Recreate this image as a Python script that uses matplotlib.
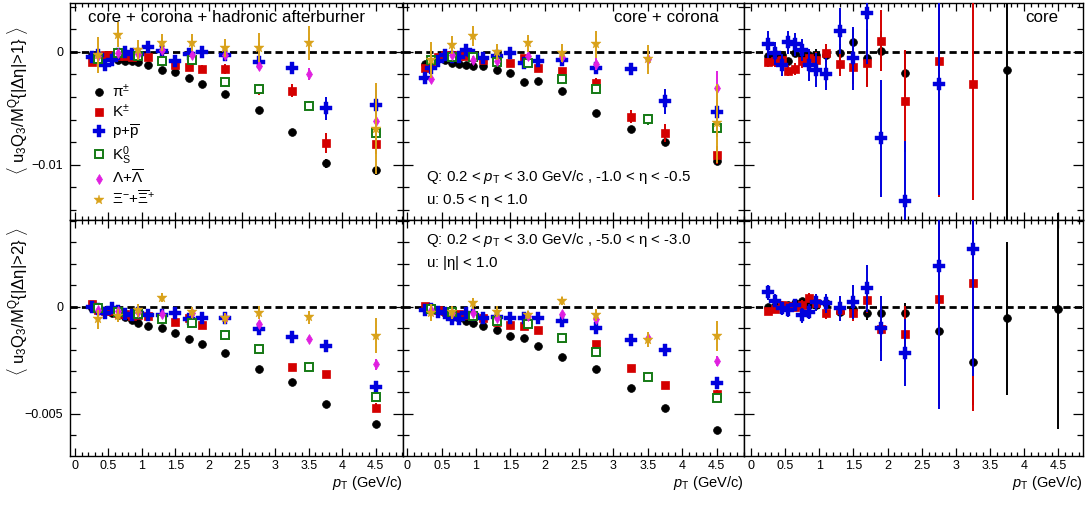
import matplotlib
matplotlib.use("Agg")
import matplotlib.pyplot as plt
import numpy as np
from matplotlib.lines import Line2D
from matplotlib.ticker import MultipleLocator, FuncFormatter

plt.rcParams["font.family"] = ["Liberation Sans", "DejaVu Sans"]
plt.rcParams["mathtext.fontset"] = "custom"
plt.rcParams["mathtext.rm"] = "Liberation Sans"
plt.rcParams["mathtext.it"] = "Liberation Sans:italic"
plt.rcParams["mathtext.bf"] = "Liberation Sans:bold"

nan = np.nan

# pT bin centres (GeV/c)
pt_pid = [0.25, 0.35, 0.45, 0.55, 0.65, 0.75, 0.85, 0.95, 1.1, 1.3,
          1.5, 1.7, 1.9, 2.25, 2.75, 3.25, 3.75, 4.5]
pt_v0 = [0.35, 0.65, 0.95, 1.3, 1.75, 2.25, 2.75, 3.5, 4.5]

# <u3 Q3 / M^Q>, all values in units of 1e-3
# suffix _1: |d eta| > 1 (top row), _2: |d eta| > 2 (bottom row)

# --- core + corona + hadronic afterburner ---
pi_hadr_1 = [-0.3, -0.4, -0.5, -0.6, -0.7, -0.8, -0.86, -0.94, -1.15, -1.65,
             -1.8, -2.3, -2.89, -3.78, -5.16, -7.11, -9.88, -10.47]
pi_hadr_1_err = [0.1, 0.1, 0.1, 0.1, 0.1, 0.1, 0.1, 0.1, 0.1, 0.1,
                 0.1, 0.15, 0.15, 0.2, 0.25, 0.3, 0.4, 0.4]
k_hadr_1 = [-0.95, -0.5, -0.3, -0.3, -0.35, -0.4, -0.45, -0.4, -0.44, -0.83,
            -1.2, -1.33, -1.53, -1.53, -3.33, -3.45, -8.05, -8.17]
k_hadr_1_err = [0.2, 0.2, 0.2, 0.2, 0.2, 0.2, 0.2, 0.2, 0.15, 0.2,
                0.25, 0.3, 0.35, 0.4, 0.5, 0.6, 0.9, 0.9]
p_hadr_1 = [-0.5, -0.3, -1.18, -0.74, -0.2, 0.0, -0.2, -0.2, 0.4, 0.1,
            -0.78, -0.2, -0.05, -0.3, -0.88, -1.42, -5.0, -4.72]
p_hadr_1_err = [0.3, 0.3, 0.3, 0.3, 0.3, 0.3, 0.3, 0.3, 0.3, 0.3,
                0.3, 0.3, 0.3, 0.35, 0.5, 0.5, 1.0, 1.3]
k0s_hadr_1 = [-0.68, -0.12, -0.4, -0.78, -0.72, -2.65, -3.3, -4.8, -7.17]
k0s_hadr_1_err = [0.2, 0.2, 0.2, 0.2, 0.25, 0.3, 0.35, 0.4, 0.6]
lam_hadr_1 = [-0.4, -0.12, -0.2, 0.15, -0.3, -0.25, -1.24, -1.98, -6.1]
lam_hadr_1_err = [0.3, 0.3, 0.3, 0.3, 0.3, 0.3, 0.4, 0.5, 0.6]
xi_hadr_1 = [-0.3, 1.5, 0.15, 0.8, 0.8, 0.33, 0.35, 0.74, -6.8]
xi_hadr_1_err = [1.6, 1.1, 0.9, 0.75, 0.75, 0.8, 1.3, 1.5, 4.0]

pi_hadr_2 = [-0.05, -0.12, -0.2, -0.3, -0.4, -0.5, -0.63, -0.77, -0.88, -1.0,
             -1.25, -1.52, -1.72, -2.14, -2.89, -3.49, -4.53, -5.47]
pi_hadr_2_err = [0.03, 0.03, 0.03, 0.03, 0.03, 0.03, 0.03, 0.03, 0.03, 0.03,
                 0.03, 0.03, 0.04, 0.04, 0.05, 0.07, 0.08, 0.1]
k_hadr_2 = [0.12, -0.15, -0.2, -0.2, -0.3, -0.35, -0.45, -0.4, -0.42, -0.5,
            -0.71, -0.55, -0.85, -1.32, -1.99, -2.81, -3.14, -4.7]
k_hadr_2_err = [0.05, 0.05, 0.05, 0.05, 0.05, 0.05, 0.05, 0.05, 0.05, 0.05,
                0.05, 0.05, 0.05, 0.06, 0.08, 0.1, 0.15, 0.2]
p_hadr_2 = [-0.03, -0.1, -0.31, -0.08, -0.2, -0.36, -0.39, -0.3, -0.39, -0.4,
            -0.31, -0.57, -0.54, -0.54, -1.04, -1.4, -1.82, -3.73]
p_hadr_2_err = [0.05, 0.05, 0.05, 0.05, 0.05, 0.05, 0.05, 0.05, 0.05, 0.05,
                0.05, 0.05, 0.05, 0.06, 0.08, 0.1, 0.12, 0.15]
k0s_hadr_2 = [-0.05, -0.23, -0.36, -0.57, -0.78, -1.32, -1.99, -2.8, -4.22]
k0s_hadr_2_err = [0.05, 0.05, 0.05, 0.05, 0.06, 0.07, 0.08, 0.1, 0.12]
lam_hadr_2 = [-0.16, -0.2, -0.25, -0.36, -0.31, -0.54, -0.81, -1.51, -2.69]
lam_hadr_2_err = [0.1, 0.1, 0.1, 0.1, 0.1, 0.1, 0.12, 0.15, 0.25]
xi_hadr_2 = [-0.59, -0.43, -0.16, 0.42, -0.26, -0.54, -0.28, -0.5, -1.35]
xi_hadr_2_err = [0.45, 0.3, 0.3, 0.2, 0.25, 0.25, 0.3, 0.3, 0.8]

# --- core + corona ---
pi_cc_1 = [-1.1, -0.8, -0.55, -0.7, -1.03, -1.12, -1.18, -1.3, -1.24, -1.62,
           -1.92, -2.65, -2.6, -3.48, -5.46, -6.87, -8.02, -9.65]
pi_cc_1_err = [0.1, 0.1, 0.1, 0.1, 0.1, 0.1, 0.1, 0.1, 0.1, 0.1,
               0.1, 0.1, 0.1, 0.15, 0.2, 0.3, 0.35, 0.4]
k_cc_1 = [-1.47, -0.9, -0.5, -0.3, -0.3, -0.35, -0.4, -0.5, -0.74, -0.74,
          -1.03, -0.59, -1.47, -1.71, -2.74, -5.75, -7.17, -9.14]
k_cc_1_err = [0.2, 0.2, 0.2, 0.2, 0.2, 0.2, 0.2, 0.2, 0.2, 0.2,
              0.2, 0.2, 0.2, 0.3, 0.4, 0.6, 0.8, 0.8]
p_cc_1 = [-2.3, -1.47, -0.83, -0.3, -0.44, -0.44, 0.15, -0.3, -0.55, -0.35,
          -0.09, -0.97, -0.83, -0.74, -1.47, -1.53, -4.37, -5.31]
p_cc_1_err = [0.3, 0.3, 0.25, 0.2, 0.2, 0.2, 0.2, 0.2, 0.2, 0.2,
              0.2, 0.2, 0.25, 0.3, 0.4, 0.5, 1.1, 1.0]
k0s_cc_1 = [-0.74, -0.44, -0.5, -0.88, -1.03, -2.42, -3.33, -5.99, -6.78]
k0s_cc_1_err = [0.2, 0.2, 0.2, 0.2, 0.2, 0.3, 0.4, 0.5, 0.8]
lam_cc_1 = [-2.42, -0.3, -0.74, -0.8, -0.38, -0.5, -1.09, -0.68, -3.24]
lam_cc_1_err = [0.35, 0.3, 0.35, 0.3, 0.3, 0.3, 0.5, 0.8, 1.5]
xi_cc_1 = [-0.74, 0.59, 1.39, 0.0, 0.74, -0.15, 0.65, -0.68, -6.34]
xi_cc_1_err = [1.6, 0.8, 0.9, 0.7, 0.75, 0.8, 1.2, 1.3, 3.5]

pi_cc_2 = [-0.05, -0.12, -0.2, -0.3, -0.4, -0.55, -0.67, -0.78, -0.89, -1.09,
           -1.37, -1.48, -1.83, -2.36, -2.92, -3.8, -4.74, -5.75]
pi_cc_2_err = [0.03, 0.03, 0.03, 0.03, 0.03, 0.03, 0.03, 0.03, 0.03, 0.03,
               0.03, 0.03, 0.04, 0.04, 0.05, 0.07, 0.08, 0.1]
k_cc_2 = [0.05, -0.05, -0.15, -0.2, -0.28, -0.35, -0.4, -0.45, -0.55, -0.7,
          -0.85, -0.9, -1.09, -1.44, -1.74, -2.84, -3.65, -4.08]
k_cc_2_err = [0.05, 0.05, 0.05, 0.05, 0.05, 0.05, 0.05, 0.05, 0.05, 0.05,
              0.05, 0.05, 0.05, 0.06, 0.08, 0.1, 0.15, 0.2]
p_cc_2 = [-0.16, -0.1, -0.26, -0.3, -0.57, -0.57, -0.31, -0.4, -0.51, -0.5,
          -0.54, -0.54, -0.54, -0.67, -0.98, -1.55, -2.02, -3.57]
p_cc_2_err = [0.05, 0.05, 0.05, 0.05, 0.05, 0.05, 0.05, 0.05, 0.05, 0.05,
              0.05, 0.05, 0.05, 0.06, 0.08, 0.1, 0.12, 0.15]
k0s_cc_2 = [-0.11, -0.26, -0.43, -0.67, -0.81, -1.44, -2.13, -3.26, -4.24]
k0s_cc_2_err = [0.05, 0.05, 0.05, 0.05, 0.06, 0.07, 0.08, 0.1, 0.12]
lam_cc_2 = [-0.16, -0.31, -0.3, -0.51, -0.43, -0.34, -0.59, -1.48, -2.53]
lam_cc_2_err = [0.1, 0.1, 0.1, 0.1, 0.1, 0.1, 0.12, 0.15, 0.25]
xi_cc_2 = [-0.28, -0.26, 0.16, -0.23, -0.39, 0.26, -0.39, -1.55, -1.35]
xi_cc_2_err = [0.4, 0.3, 0.25, 0.25, 0.2, 0.2, 0.3, 0.35, 0.7]

# --- core only (no strange hadrons) ---
pi_core_1 = [-0.38, -0.2, -0.3, -0.83, -0.09, -0.4, -0.3, -0.3, -0.3, -0.09,
             0.83, -0.53, 0.06, -1.92, nan, nan, -1.62, -19.0]
pi_core_1_err = [0.3, 0.3, 0.3, 0.3, 0.3, 0.4, 0.4, 0.5, 0.6, 0.8,
                 1.2, 2.5, 1.8, 2.0, nan, nan, 13.5, 4.7]
k_core_1 = [-0.88, -0.83, -0.7, -1.68, -1.53, -0.83, -0.59, -0.74, -0.09, -1.12,
            -1.33, -1.03, 0.97, -4.34, -0.83, -2.86, nan, nan]
k_core_1_err = [0.5, 0.5, 0.5, 0.5, 0.5, 0.6, 0.6, 0.7, 0.8, 1.0,
                1.5, 2.1, 2.7, 4.5, 12.0, 10.3, nan, nan]
p_core_1 = [0.65, -0.15, -1.18, 0.83, 0.65, 0.15, -1.18, -1.62, -1.98, 1.83,
            -0.59, 3.39, -7.67, -13.2, -2.86, nan, nan, nan]
p_core_1_err = [1.2, 1.0, 1.0, 1.0, 1.0, 1.0, 1.4, 1.5, 1.4, 2.0,
                2.8, 4.5, 5.2, 5.3, 9.8, nan, nan, nan]

pi_core_2 = [0.0, 0.05, 0.05, 0.1, 0.15, 0.26, 0.1, 0.1, 0.16, -0.23,
             -0.1, -0.31, -0.31, -0.28, -1.13, -2.58, -0.54, -0.12]
pi_core_2_err = [0.1, 0.1, 0.1, 0.1, 0.1, 0.15, 0.15, 0.15, 0.2, 0.25,
                 0.3, 0.3, 0.3, 0.45, 1.0, 2.0, 3.57, 5.6]
k_core_2 = [-0.2, -0.11, 0.1, 0.05, 0.0, 0.1, 0.42, 0.16, -0.28, -0.16,
            -0.28, 0.31, -1.06, -1.27, 0.36, 1.12, nan, nan]
k_core_2_err = [0.1, 0.1, 0.15, 0.15, 0.15, 0.2, 0.2, 0.2, 0.3, 0.3,
                0.4, 0.6, 1.0, 1.3, 5.0, 6.0, nan, nan]
p_core_2 = [0.67, 0.28, -0.08, -0.16, 0.08, -0.39, -0.23, 0.2, 0.16, -0.08,
            0.23, 0.85, -1.01, -2.14, 1.91, 2.67, nan, nan]
p_core_2_err = [0.35, 0.3, 0.3, 0.3, 0.3, 0.35, 0.35, 0.4, 0.45, 0.6,
                0.8, 1.1, 1.5, 1.55, 6.7, 5.9, nan, nan]

species_labels = [r"$\mathrm{\pi}^{\pm}$", r"K$^{\pm}$", r"p+$\overline{\mathrm{p}}$",
                  r"K$^{0}_{\mathrm{S}}$", r"$\Lambda$+$\overline{\Lambda}$",
                  r"$\Xi^{-}$+$\overline{\Xi}^{+}$"]

styles = [
    dict(marker="o", color="black", mfc="black", ms=5.6, mew=0.5),
    dict(marker="s", color="#d40000", mfc="#d40000", ms=6.2, mew=0.5),
    dict(marker="P", color="#0000dd", mfc="#0000dd", ms=8.0, mew=0.3),
    dict(marker="s", color="#157a15", mfc="white", ms=5.8, mew=1.4),
    dict(marker="d", color="#e020e0", mfc="#e020e0", ms=5.0, mew=0.5),
    dict(marker="*", color="#d9a21b", mfc="#d9a21b", ms=7.5, mew=0.3),
]

# (values, errors) per species, for each [row][column]
panels = [
    [
        [(pi_hadr_1, pi_hadr_1_err), (k_hadr_1, k_hadr_1_err), (p_hadr_1, p_hadr_1_err),
         (k0s_hadr_1, k0s_hadr_1_err), (lam_hadr_1, lam_hadr_1_err), (xi_hadr_1, xi_hadr_1_err)],
        [(pi_cc_1, pi_cc_1_err), (k_cc_1, k_cc_1_err), (p_cc_1, p_cc_1_err),
         (k0s_cc_1, k0s_cc_1_err), (lam_cc_1, lam_cc_1_err), (xi_cc_1, xi_cc_1_err)],
        [(pi_core_1, pi_core_1_err), (k_core_1, k_core_1_err), (p_core_1, p_core_1_err)],
    ],
    [
        [(pi_hadr_2, pi_hadr_2_err), (k_hadr_2, k_hadr_2_err), (p_hadr_2, p_hadr_2_err),
         (k0s_hadr_2, k0s_hadr_2_err), (lam_hadr_2, lam_hadr_2_err), (xi_hadr_2, xi_hadr_2_err)],
        [(pi_cc_2, pi_cc_2_err), (k_cc_2, k_cc_2_err), (p_cc_2, p_cc_2_err),
         (k0s_cc_2, k0s_cc_2_err), (lam_cc_2, lam_cc_2_err), (xi_cc_2, xi_cc_2_err)],
        [(pi_core_2, pi_core_2_err), (k_core_2, k_core_2_err), (p_core_2, p_core_2_err)],
    ],
]

W, H = 1085, 505
col_px = [(70, 403), (403, 744), (744, 1083)]
row_px = [(3, 220), (220, 456)]
xlims = [(-0.075, 4.91), (-0.063, 4.90), (-0.10, 4.86)]
ylims = [(-0.01489, 0.00431), (-0.00696, 0.00404)]
ymajor = [0.01, 0.005]
yminor = [0.002, 0.001]


def tick_fmt(v, pos):
    if abs(v) < 1e-12:
        return "0"
    return f"{round(v, 6):g}".replace("-", "\u2212")


fig = plt.figure(figsize=(W / 100, H / 100), dpi=100)
axes = [[None] * 3 for _ in range(2)]

for r, (y0, y1) in enumerate(row_px):
    for c, (x0, x1) in enumerate(col_px):
        ax = fig.add_axes([x0 / W, 1 - y1 / H, (x1 - x0) / W, (y1 - y0) / H])
        axes[r][c] = ax
        ax.set_xlim(*xlims[c])
        ax.set_ylim(*ylims[r])
        ax.axhline(0, color="black", lw=2.0, ls=(0, (2.6, 1.5)), zorder=1)

        for i, (vals, errs) in enumerate(panels[r][c]):
            st = styles[i]
            pt = pt_pid if i < 3 else pt_v0
            ax.errorbar(pt, np.array(vals) * 1e-3, yerr=np.array(errs) * 1e-3,
                        fmt=st["marker"], color=st["color"], mfc=st["mfc"],
                        mec=st["color"], ms=st["ms"], mew=st["mew"],
                        elinewidth=1.4, capsize=0, zorder=2 + i)

        ax.xaxis.set_major_locator(MultipleLocator(0.5))
        ax.xaxis.set_minor_locator(MultipleLocator(0.1))
        ax.yaxis.set_major_locator(MultipleLocator(ymajor[r]))
        ax.yaxis.set_minor_locator(MultipleLocator(yminor[r]))
        ax.xaxis.set_major_formatter(FuncFormatter(tick_fmt))
        ax.yaxis.set_major_formatter(FuncFormatter(tick_fmt))
        ax.tick_params(which="both", direction="in", top=True, right=True,
                       labelsize=9, width=0.9)
        ax.tick_params(axis="x", which="major", length=6, pad=3)
        ax.tick_params(axis="x", which="minor", length=3)
        ax.tick_params(axis="y", which="major", length=7, pad=5)
        ax.tick_params(axis="y", which="minor", length=4)
        ax.tick_params(labelleft=(c == 0), labelbottom=(r == 1))
        for sp in ax.spines.values():
            sp.set_linewidth(1.0)
        if r == 1:
            ax.set_xlabel(r"$p_{\mathrm{T}}$ (GeV/c)", loc="right", fontsize=10.5, labelpad=1)

# panel titles
axes[0][0].text(0.054, 0.935, "core + corona + hadronic afterburner",
                transform=axes[0][0].transAxes, fontsize=12.2, va="center")
axes[0][1].text(0.619, 0.935, "core + corona", transform=axes[0][1].transAxes,
                fontsize=12.2, va="center")
axes[0][2].text(0.829, 0.935, "core", transform=axes[0][2].transAxes,
                fontsize=12.2, va="center")

# acceptance of the Q-vector and u-particles
axes[0][1].text(0.067, 0.198,
                r"Q: 0.2 < $p_{\mathrm{T}}$ < 3.0 GeV/c , -1.0 < $\mathrm{\eta}$ < -0.5",
                transform=axes[0][1].transAxes, fontsize=10.8, va="center")
axes[0][1].text(0.067, 0.092, r"u: 0.5 < $\mathrm{\eta}$ < 1.0",
                transform=axes[0][1].transAxes, fontsize=10.8, va="center")
axes[1][1].text(0.067, 0.915,
                r"Q: 0.2 < $p_{\mathrm{T}}$ < 3.0 GeV/c , -5.0 < $\mathrm{\eta}$ < -3.0",
                transform=axes[1][1].transAxes, fontsize=10.8, va="center")
axes[1][1].text(0.067, 0.818, r"u: |$\mathrm{\eta}$| < 1.0",
                transform=axes[1][1].transAxes, fontsize=10.8, va="center")

# y-axis titles
fig.text(18 / W, 1 - 101 / H,
         r"$\langle$ u$_3$Q$_3$/M$^{\mathrm{Q}}${|$\Delta\mathrm{\eta}$|>1} $\rangle$",
         rotation=90, ha="center", va="center", fontsize=12)
fig.text(18 / W, 1 - 302 / H,
         r"$\langle$ u$_3$Q$_3$/M$^{\mathrm{Q}}${|$\Delta\mathrm{\eta}$|>2} $\rangle$",
         rotation=90, ha="center", va="center", fontsize=12)

# species legend
handles = [Line2D([], [], ls="none", marker=st["marker"], color=st["color"],
                  mfc=st["mfc"], mec=st["color"], ms=st["ms"], mew=st["mew"])
           for st in styles]
axes[0][0].legend(handles, species_labels, loc="upper left",
                  bbox_to_anchor=(0.07, 0.631), frameon=False, fontsize=11,
                  handlelength=0.8, handletextpad=0.4, labelspacing=0.16,
                  borderpad=0, borderaxespad=0)

fig.savefig("out.png", dpi=100)
